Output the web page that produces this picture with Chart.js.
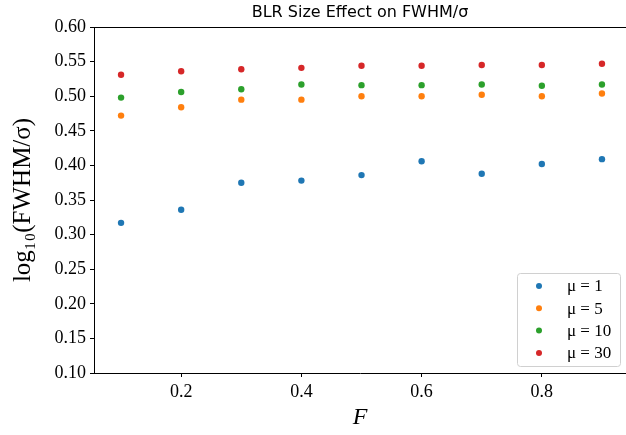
<!DOCTYPE html>
<html>
<head>
<meta charset="utf-8">
<script src="https://cdn.jsdelivr.net/npm/chart.js@4.4.0/dist/chart.umd.min.js"></script>
<style>
html, body { margin: 0; padding: 0; background: #fff; }
#wrap { width: 626px; height: 435px; }
</style>
</head>
<body>
<div id="wrap"><canvas id="c" width="626" height="435"></canvas></div>
<script>
// values
var fValues = [0.1, 0.2, 0.3, 0.4, 0.5, 0.6, 0.7, 0.8, 0.9];
var mu1 = [0.317, 0.336, 0.375, 0.378, 0.386, 0.406, 0.388, 0.402, 0.409];
var mu5 = [0.472, 0.484, 0.495, 0.495, 0.500, 0.500, 0.502, 0.500, 0.504];
var mu10 = [0.498, 0.506, 0.510, 0.517, 0.516, 0.516, 0.517, 0.515, 0.517];
var mu30 = [0.531, 0.536, 0.539, 0.541, 0.544, 0.544, 0.545, 0.545, 0.547];
var seriesLabels = ['\u03bc = 1', '\u03bc = 5', '\u03bc = 10', '\u03bc = 30'];
var seriesColors = ['#1f77b4', '#ff7f0e', '#2ca02c', '#d62728'];
var xTicks = [0.2, 0.4, 0.6, 0.8];
var yTicks = [0.10, 0.15, 0.20, 0.25, 0.30, 0.35, 0.40, 0.45, 0.50, 0.55, 0.60];

var serif = "'Liberation Serif', 'DejaVu Serif', serif";

function toPoints(arr){
	var pts = [];
	for(var i=0;i<arr.length;i++){
		pts.push({x: fValues[i], y: arr[i]});
	}
	return pts;
}

var allSeries = [mu1, mu5, mu10, mu30];
var datasets = [];
for(var i=0;i<allSeries.length;i++){
	datasets.push({
		label: seriesLabels[i],
		data: toPoints(allSeries[i]),
		backgroundColor: seriesColors[i],
		borderColor: seriesColors[i],
		pointRadius: 3.2,
		pointBorderWidth: 0
	});
}

// top spine and the legend inside the axes
var framePlugin = {
	id: 'frame',
	afterDraw: function(chart){
		var ctx = chart.ctx;
		var a = chart.chartArea;
		ctx.save();
		ctx.strokeStyle = '#000';
		ctx.lineWidth = 1;
		ctx.beginPath();
		ctx.moveTo(a.left, a.top + 0.5);
		ctx.lineTo(a.right, a.top + 0.5);
		ctx.stroke();

		// legend box
		var bx = 517, by = 273, bw = 103, bh = 93;
		ctx.fillStyle = 'rgba(255,255,255,0.8)';
		ctx.strokeStyle = '#d0d0d0';
		ctx.beginPath();
		if(ctx.roundRect){ ctx.roundRect(bx + 0.5, by + 0.5, bw, bh, 3); } else { ctx.rect(bx + 0.5, by + 0.5, bw, bh); }
		ctx.fill();
		ctx.stroke();
		ctx.font = '17px ' + serif;
		ctx.textBaseline = 'middle';
		ctx.textAlign = 'left';
		var ds = chart.data.datasets;
		for(var i=0;i<ds.length;i++){
			var yy = by + 13 + i * 22.3;
			ctx.fillStyle = ds[i].backgroundColor;
			ctx.beginPath();
			ctx.arc(bx + 22, yy, 3, 0, Math.PI * 2);
			ctx.fill();
			ctx.fillStyle = '#000';
			ctx.fillText(ds[i].label, bx + 50, yy + 1);
		}
		ctx.restore();
	}
};

var ctx = document.getElementById('c');
var chart = new Chart(ctx, {
	type: 'scatter',
	data: { datasets: datasets },
	options: {
		responsive: false,
		animation: false,
		layout: { padding: 0, autoPadding: false },
		plugins: {
			legend: { display: false },
			tooltip: { enabled: false },
			title: {
				display: true,
				text: 'BLR Size Effect on FWHM/\u03c3',
				fullSize: false,
				color: '#000',
				font: { family: "'DejaVu Sans', sans-serif", size: 16, weight: 'normal', lineHeight: 1.2 },
				padding: { top: 3, bottom: 4.8 }
			}
		},
		scales: {
			x: {
				type: 'linear',
				min: 0.055,
				max: 0.94,
				afterBuildTicks: function(scale){
					scale.ticks = xTicks.map(function(v){ return {value: v}; });
				},
				afterFit: function(scale){
					scale.height = 62;
					scale.paddingLeft = 0;
					scale.paddingRight = 0;
				},
				ticks: {
					color: '#000',
					font: { family: serif, size: 18 },
					padding: 4,
					callback: function(v){ return v.toFixed(1); }
				},
				grid: { drawOnChartArea: false, drawTicks: true, tickLength: 4, color: '#000' },
				border: { color: '#000', width: 1 },
				title: {
					display: true,
					text: 'F',
					color: '#000',
					font: { family: serif, size: 24, style: 'italic' },
					padding: { top: 0, bottom: 3 }
				}
			},
			y: {
				type: 'linear',
				min: 0.10,
				max: 0.60,
				afterBuildTicks: function(scale){
					scale.ticks = yTicks.map(function(v){ return {value: v}; });
				},
				afterFit: function(scale){
					scale.width = 94;
					scale.paddingTop = 0;
					scale.paddingBottom = 0;
				},
				ticks: {
					color: '#000',
					font: { family: serif, size: 18 },
					padding: 4,
					callback: function(v){ return v.toFixed(2); }
				},
				grid: { drawOnChartArea: false, drawTicks: true, tickLength: 4, color: '#000' },
				border: { color: '#000', width: 1 },
				title: {
					display: true,
					text: 'log\u2081\u2080(FWHM/\u03c3)',
					color: '#000',
					font: { family: serif, size: 25 },
					padding: { top: 8, bottom: 0 }
				}
			}
		}
	},
	plugins: [framePlugin]
});
</script>
</body>
</html>
